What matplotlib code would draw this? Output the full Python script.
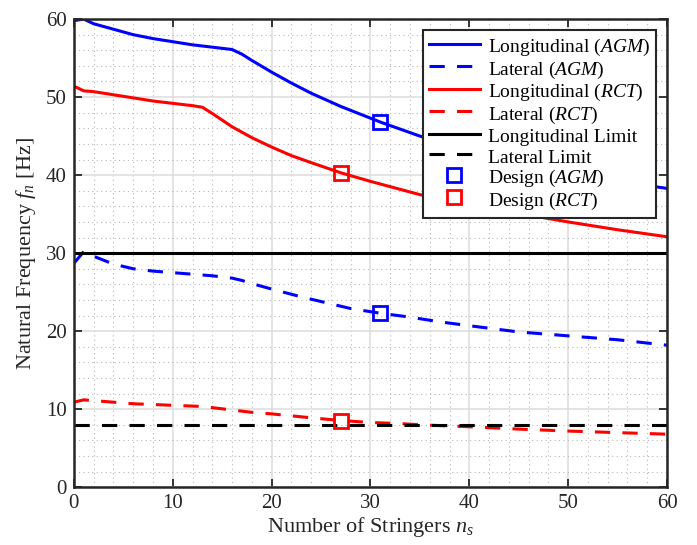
import numpy as np
import matplotlib
matplotlib.use("Agg")
import matplotlib.pyplot as plt
from matplotlib.ticker import MultipleLocator

plt.rcParams['font.family'] = ['Liberation Serif', 'DejaVu Serif']
plt.rcParams['mathtext.fontset'] = 'custom'
plt.rcParams['mathtext.rm'] = 'Liberation Serif'
plt.rcParams['mathtext.it'] = 'Liberation Serif:italic'

# longitudinal / lateral natural frequency vs stringer count
x_agm_long = [0, 1, 2, 4, 6, 8, 10, 12, 14, 16, 17, 18, 20, 22, 24, 27, 31, 35, 40, 45, 50, 55, 60]
y_agm_long = [59.8, 60.0, 59.4, 58.7, 58.0, 57.5, 57.1, 56.7, 56.4, 56.1, 55.5, 54.7, 53.2, 51.8,
              50.5, 48.8, 46.8, 45.0, 43.2, 41.6, 40.2, 39.2, 38.3]

x_rct_long = [0, 1, 2, 4, 6, 8, 10, 12, 13, 14, 16, 18, 20, 22, 24, 27, 30, 35, 40, 45, 50, 55, 60]
y_rct_long = [51.4, 50.8, 50.7, 50.3, 49.9, 49.5, 49.2, 48.9, 48.7, 47.9, 46.2, 44.8, 43.6, 42.5,
              41.6, 40.3, 39.2, 37.5, 36.2, 35.1, 34.0, 33.0, 32.1]

x_agm_lat = [0, 1, 2, 4, 6, 8, 10, 12, 14, 16, 17, 18, 20, 23, 26, 28, 31, 34, 37, 40, 45, 50, 55, 60]
y_agm_lat = [28.7, 30.2, 29.6, 28.6, 28.0, 27.7, 27.5, 27.3, 27.1, 26.8, 26.5, 26.1, 25.4, 24.4,
             23.5, 22.9, 22.3, 21.8, 21.2, 20.7, 19.9, 19.4, 18.9, 18.2]

x_rct_lat = [0, 1, 2, 4, 6, 8, 10, 12, 13, 14, 16, 18, 20, 22, 24, 27, 30, 33, 36, 40, 45, 50, 55, 60]
y_rct_lat = [10.9, 11.2, 11.1, 10.9, 10.7, 10.6, 10.5, 10.4, 10.35, 10.2, 9.9, 9.6, 9.4, 9.15,
             8.9, 8.55, 8.3, 8.15, 7.95, 7.75, 7.45, 7.2, 7.0, 6.8]

long_limit = 30
lat_limit = 8

design_agm_n = 31
design_agm_f = [46.8, 22.3]
design_rct_n = 27
design_rct_f = [40.3, 8.55]

fig = plt.figure(figsize=(6.97, 5.45), dpi=100)
ax = fig.add_axes([0.106, 0.106, 0.851, 0.859])

lw = 2.2
dash = (0, (5, 4))
ax.plot(x_agm_long, y_agm_long, color='#0000ff', lw=lw, label=r'Longitudinal $\mathit{(AGM)}$')
ax.plot(x_agm_lat, y_agm_lat, color='#0000ff', lw=lw, ls=dash, label=r'Lateral $\mathit{(AGM)}$')
ax.plot(x_rct_long, y_rct_long, color='#ff0000', lw=lw, label=r'Longitudinal $\mathit{(RCT)}$')
ax.plot(x_rct_lat, y_rct_lat, color='#ff0000', lw=lw, ls=dash, label=r'Lateral $\mathit{(RCT)}$')
ax.axhline(long_limit, color='black', lw=lw, label='Longitudinal Limit')
ax.axhline(lat_limit, color='black', lw=lw, ls=dash, label='Lateral Limit')
ax.plot([design_agm_n] * 2, design_agm_f, ls='none', marker='s', ms=9.5, mfc='none',
        mec='#0000ff', mew=2.0, label=r'Design $\mathit{(AGM)}$')
ax.plot([design_rct_n] * 2, design_rct_f, ls='none', marker='s', ms=9.5, mfc='none',
        mec='#ff0000', mew=2.0, label=r'Design $\mathit{(RCT)}$')

ax.set_xlim(0, 60)
ax.set_ylim(0, 60)
ax.xaxis.set_major_locator(MultipleLocator(10))
ax.yaxis.set_major_locator(MultipleLocator(10))
ax.xaxis.set_minor_locator(MultipleLocator(2))
ax.yaxis.set_minor_locator(MultipleLocator(2))
ax.grid(which='major', color='#dcdcdc', lw=1.1)
ax.grid(which='minor', color='#b8b8b8', lw=0.8, ls=(0, (1, 3)))
ax.set_axisbelow(True)
ax.tick_params(which='major', direction='in', length=6, width=1.3, top=True, right=True,
               labelsize=15, colors='#262626', pad=5)
ax.tick_params(which='minor', length=0, top=True, right=True)
for s in ax.spines.values():
    s.set_linewidth(1.8)
    s.set_color('#262626')

ax.set_xlabel(r'Number of Stringers $n_s$', fontsize=16, color='#262626', labelpad=1)
ax.set_ylabel(r'Natural Frequency $f_n$ [Hz]', fontsize=16, color='#262626', labelpad=6)

leg = ax.legend(loc='upper right', fontsize=14, frameon=True, fancybox=False,
                edgecolor='#262626', framealpha=1, handlelength=2.6, handletextpad=0.45,
                handleheight=1.19, borderpad=0.3, labelspacing=0.0, borderaxespad=0.55)
leg.get_frame().set_linewidth(1.5)

fig.savefig('out.png', dpi=100)
